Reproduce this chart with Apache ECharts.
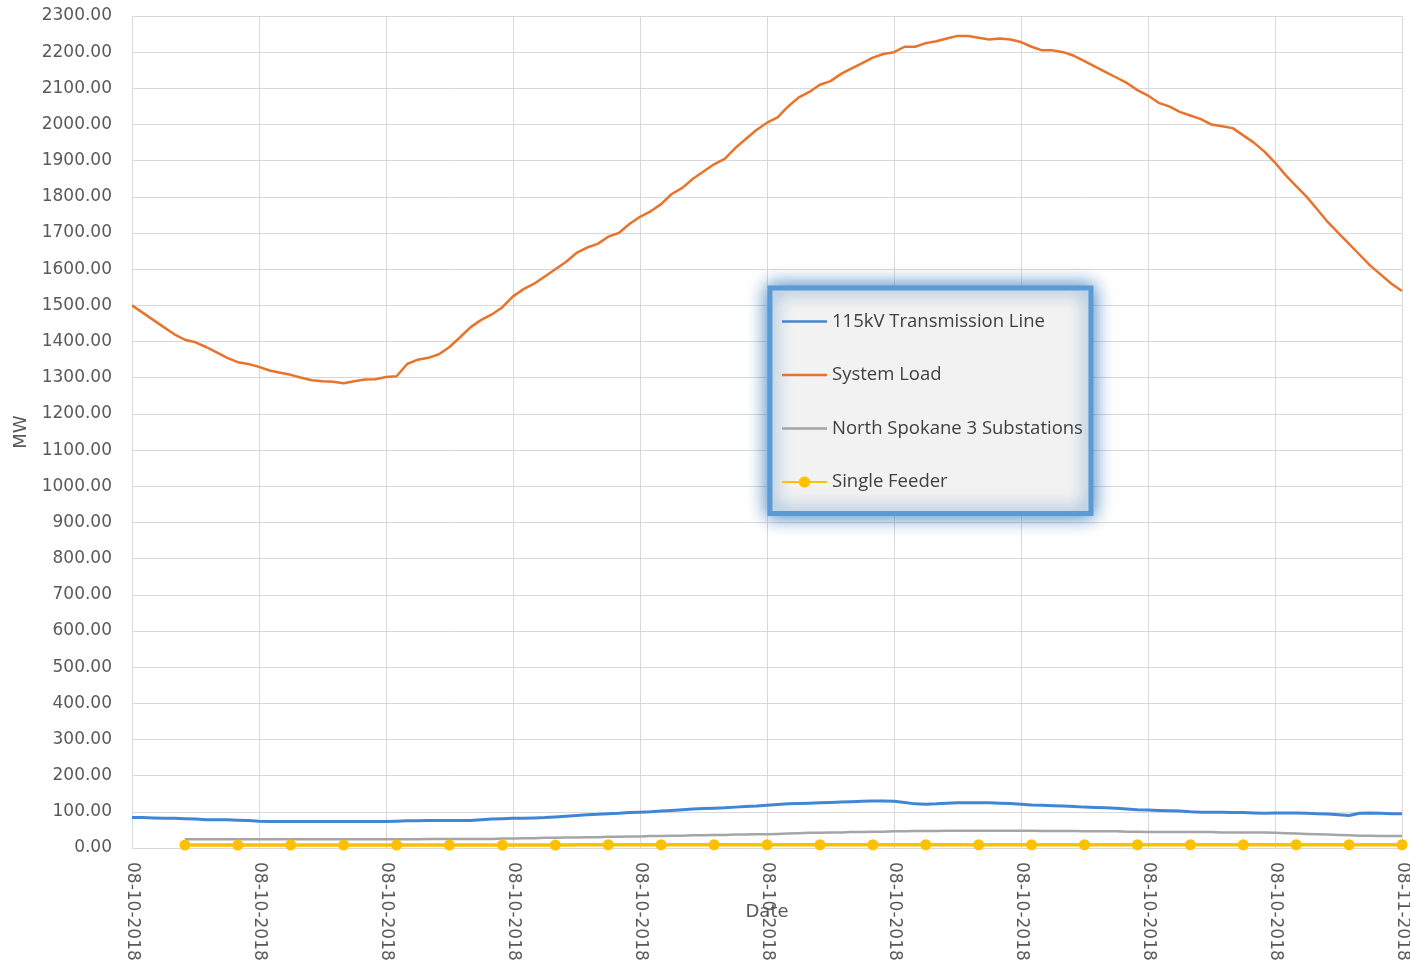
<!DOCTYPE html>
<html>
<head>
<meta charset="utf-8">
<script src="https://cdn.jsdelivr.net/npm/echarts@6/dist/echarts.min.js"></script>
<style>
  html, body { margin: 0; padding: 0; background: #fff; }
  #box { width: 1410px; height: 965px; }
</style>
</head>
<body>
<div id="box"></div>
<script>
// 12-minute steps over one day, 08-10-2018 00:00 -> 08-11-2018 00:00
var times = []
for (var k = 0; k <= 120; k++) {
    var mins = k * 12
    var day = mins >= 1440 ? '08-11-2018' : '08-10-2018'
    var m = mins % 1440
    var hh = ('0' + Math.floor(m / 60)).slice(-2)
    var mm = ('0' + (m % 60)).slice(-2)
    times.push(day + ' ' + hh + ':' + mm)
}

var seriesNames = ['115kV Transmission Line', 'System Load', 'North Spokane 3 Substations', 'Single Feeder']

var transmissionLine = [
    84, 84, 83, 82, 82, 81, 80, 78, 78, 78, 77, 76, 74, 73, 73, 73, 73, 73, 73, 73,
    73, 73, 73, 73, 73, 74, 75, 75, 76, 76, 76, 76, 76, 78, 80, 81, 82, 82, 83, 84,
    86, 88, 90, 92, 93, 95, 96, 98, 99, 100, 102, 104, 106, 108, 109, 110, 111, 113, 115, 116,
    118, 120, 122, 123, 124, 125, 126, 127, 128, 129, 130, 130, 129, 126, 122, 121, 122, 124, 125, 125,
    125, 125, 124, 123, 121, 119, 118, 117, 116, 115, 113, 112, 111, 110, 108, 106, 105, 104, 103, 102,
    100, 99, 99, 99, 98, 98, 97, 96, 97, 97, 97, 96, 95, 94, 92, 90, 96, 97, 96, 95,
    95
]

var systemLoad = [
    1500, 1480, 1460, 1440, 1420, 1405, 1398, 1385, 1370, 1355, 1343, 1338, 1330, 1320, 1314, 1308, 1300, 1293, 1290, 1289,
    1285, 1290, 1295, 1296, 1302, 1304, 1338, 1350, 1355, 1365, 1385, 1412, 1440, 1460, 1475, 1495, 1525, 1545, 1560, 1580,
    1600, 1620, 1645, 1660, 1670, 1690, 1700, 1725, 1745, 1760, 1780, 1808, 1825, 1850, 1870, 1890, 1905, 1935, 1960, 1985,
    2005, 2020, 2050, 2075, 2090, 2110, 2120, 2140, 2155, 2170, 2185, 2195, 2200, 2215, 2215, 2225, 2230, 2238, 2245, 2245,
    2240, 2235, 2238, 2235, 2228, 2215, 2205, 2205, 2200, 2190, 2175, 2160, 2145, 2130, 2115, 2095, 2080, 2060, 2050, 2035,
    2025, 2015, 2000, 1995, 1990, 1970, 1950, 1925, 1895, 1860, 1830, 1800, 1765, 1730, 1700, 1670, 1640, 1610, 1585, 1560,
    1540
]

var substations = [
    null, null, null, null, null, 24, 24, 24, 24, 24, 24, 24, 24, 24, 24, 24, 24, 24, 24, 24,
    24, 24, 24, 24, 24, 24, 24, 24, 25, 25, 25, 25, 25, 25, 25, 26, 26, 27, 27, 28,
    28, 29, 29, 30, 30, 31, 31, 32, 32, 33, 33, 34, 34, 35, 35, 36, 36, 37, 37, 38,
    38, 39, 40, 41, 42, 42, 43, 43, 44, 44, 45, 45, 46, 46, 47, 47, 47, 48, 48, 48,
    48, 48, 48, 48, 48, 48, 47, 47, 47, 47, 46, 46, 46, 46, 45, 45, 44, 44, 44, 44,
    44, 44, 44, 43, 43, 43, 43, 43, 42, 41, 40, 39, 38, 37, 36, 35, 34, 34, 33, 33,
    33
]

var singleFeeder = [
    null, null, null, null, null, 8, 8, 8, 8, 8, 8, 8, 8, 8, 8, 8, 8, 8, 8, 8,
    8, 8, 8, 8, 8, 8, 8, 8, 8, 8, 8, 8, 8, 8, 8, 8, 8, 8, 8, 8,
    8, 8, 9, 9, 9, 9, 9, 9, 9, 9, 9, 9, 9, 9, 9, 9, 9, 9, 9, 9,
    9, 9, 9, 9, 9, 9, 9, 9, 9, 9, 9, 9, 9, 9, 9, 9, 9, 9, 9, 9,
    9, 9, 9, 9, 9, 9, 9, 9, 9, 9, 9, 9, 9, 9, 9, 9, 9, 9, 9, 9,
    9, 9, 9, 9, 9, 9, 9, 9, 9, 9, 9, 9, 9, 9, 9, 9, 9, 9, 9, 9,
    9
]

// markers only every 5th point on the feeder line
var feederData = singleFeeder.map(function (v, i) {
    return i % 5 === 0 ? v : { value: v, symbol: 'none' }
})

var box = document.getElementById('box')
var myChart = echarts.init(box)

var labelColor = '#595959'
var lineIcon = 'path://M0,0 L45,0 L45,2.6 L0,2.6 Z'

option = {
    animation: false,
    grid: {
        left: 132,
        right: 8,
        top: 16,
        bottom: 117,
        containLabel: false,
        outerBoundsMode: 'none'
    },
    legend: {
        orient: 'vertical',
        left: 770,
        top: 288,
        padding: [24, 8, 22, 11],
        itemWidth: 45,
        itemHeight: 14,
        itemGap: 34.5,
        backgroundColor: '#f2f2f2',
        borderColor: '#5b9bd5',
        borderWidth: 5,
        shadowBlur: 18,
        shadowColor: 'rgba(46,117,182,0.9)',
        textStyle: {
            color: '#404040',
            fontSize: 18.5,
            fontFamily: 'Open Sans',
            padding: [0, 0, 0, 0]
        },
        data: [
            { name: seriesNames[0], icon: lineIcon },
            { name: seriesNames[1], icon: lineIcon },
            { name: seriesNames[2], icon: lineIcon },
            { name: seriesNames[3] }
        ]
    },
    xAxis: {
        type: 'category',
        boundaryGap: false,
        data: times,
        name: 'Date',
        nameLocation: 'middle',
        nameGap: 55,
        nameMoveOverlap: false,
        nameTextStyle: {
            color: labelColor,
            fontSize: 18,
            fontFamily: 'DejaVu Sans'
        },
        axisLine: { show: true, lineStyle: { color: '#d9d9d9' } },
        axisTick: { show: false },
        axisLabel: {
            interval: 11,
            rotate: -90,
            margin: 14,
            color: labelColor,
            fontSize: 17,
            fontFamily: 'DejaVu Sans',
            formatter: function (v) { return v.split(' ')[0] }
        },
        splitLine: {
            show: true,
            interval: 11,
            lineStyle: { color: '#d9d9d9', width: 1 }
        }
    },
    yAxis: {
        type: 'value',
        min: 0,
        max: 2300,
        interval: 100,
        name: 'MW',
        nameLocation: 'middle',
        nameGap: 98,
        nameTextStyle: {
            color: labelColor,
            fontSize: 18,
            fontFamily: 'DejaVu Sans'
        },
        axisLine: { show: false },
        axisTick: { show: false },
        axisLabel: {
            margin: 20,
            color: labelColor,
            fontSize: 17,
            fontFamily: 'DejaVu Sans',
            formatter: function (v) { return v.toFixed(2) }
        },
        splitLine: {
            lineStyle: { color: '#d9d9d9', width: 1 }
        }
    },
    series: [{
        name: seriesNames[0],
        type: 'line',
        data: transmissionLine,
        symbol: 'none',
        itemStyle: { color: '#3f87d6' },
        lineStyle: { color: '#3f87d6', width: 3 },
        z: 3
    }, {
        name: seriesNames[1],
        type: 'line',
        data: systemLoad,
        symbol: 'none',
        itemStyle: { color: '#e8742c' },
        lineStyle: { color: '#e8742c', width: 2.5 },
        z: 4
    }, {
        name: seriesNames[2],
        type: 'line',
        data: substations,
        symbol: 'none',
        itemStyle: { color: '#a5a5a5' },
        lineStyle: { color: '#a5a5a5', width: 2.5 },
        z: 2
    }, {
        name: seriesNames[3],
        type: 'line',
        data: feederData,
        symbol: 'circle',
        symbolSize: 11,
        showSymbol: true,
        showAllSymbol: true,
        itemStyle: { color: '#ffc000' },
        lineStyle: { color: '#ffc000', width: 3.5 },
        z: 5
    }]
};

myChart.setOption(option)
</script>
</body>
</html>
